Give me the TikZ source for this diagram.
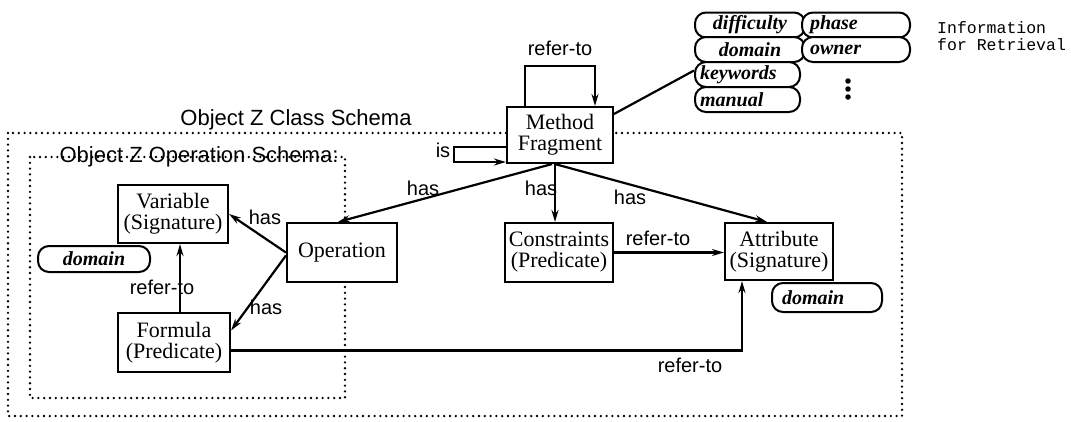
\documentclass[tikz,border=0pt]{standalone}
\usepackage{fontspec}
\setmainfont{Liberation Serif}
\newfontfamily\hv{Liberation Sans}
\newfontfamily\mono{Liberation Mono}
\usetikzlibrary{arrows.meta}
\begin{document}
\begin{tikzpicture}[x=1pt,y=-1pt,
  box/.style={draw, fill=white, line width=2.1pt, inner sep=0pt, align=center,
    font=\fontsize{22}{21}\selectfont},
  pill/.style={draw, fill=white, line width=2pt, rounded corners=11pt, inner sep=0pt,
    font=\fontsize{20}{20}\selectfont\bfseries\itshape},
  pillL/.style={pill, align=left, inner xsep=#1},
  lbl/.style={font=\hv\fontsize{20}{20}\selectfont, inner sep=0pt},
  conn/.style={line width=2.2pt},
  arr/.style={conn, -{Stealth[length=12pt,width=7pt]}},
  zone/.style={line width=2.6pt, dash pattern=on 0pt off 5.8pt, line cap=round},
  dotmark/.style={fill=black, circle, inner sep=0pt, minimum size=5.5pt}
]
\useasboundingbox (0,0) rectangle (1071,421);

% schema zones
\draw[zone] (8,133) rectangle (902,416);
\draw[zone] (30,157) rectangle (345,398);
\node[font=\hv\fontsize{22}{22}\selectfont, inner sep=0pt] (cls) at (296,120) {Object Z Class Schema};
\node[font=\hv\fontsize{22}{22}\selectfont, inner sep=0pt] (ops) at (199,157) {Object Z Operation Schema:};

% boxes
\node[box, minimum width=106pt, minimum height=56pt] (mf) at (560,135) {Method\\Fragment};
\node[box, minimum width=110pt, minimum height=58pt] (var) at (173,214) {Variable\\(Signature)};
\node[box, minimum width=112pt, minimum height=59pt] (form) at (174,342.5) {Formula\\(Predicate)};
\node[box, minimum width=110pt, minimum height=59pt] (op) at (342,252.5) {Operation};
\node[box, minimum width=108pt, minimum height=59pt] (con) at (559,252.5) {Constraints\\(Predicate)};
\node[box, minimum width=108pt, minimum height=57pt] (att) at (779,251.5) {Attribute\\(Signature)};

% domain pills
\node[pill, minimum width=112pt, minimum height=26pt] (dom1) at (94,259) {domain};
\node[pillL=10pt, text width=90pt, minimum height=29pt] (dom2) at (827,297.5) {domain};

% retrieval pills
\node[pill, minimum width=110pt, minimum height=25pt] (dif) at (750,25) {difficulty};
\node[pillL=8pt, text width=92pt, minimum height=25pt] (pha) at (856,25) {phase};
\node[pill, minimum width=110pt, minimum height=25pt] (dom3) at (750,49.5) {domain};
\node[pillL=8pt, text width=92pt, minimum height=25pt] (own) at (856,49.5) {owner};
\node[pillL=5pt, text width=95pt, minimum height=25pt] (kw) at (747.5,74.5) {keywords};
\node[pillL=5pt, text width=95pt, minimum height=25pt] (man) at (747.5,99.5) {manual};
\node[dotmark] (d1) at (848,81) {};
\node[dotmark] (d2) at (848,89) {};
\node[dotmark] (d3) at (848,97) {};
\node[font=\mono\fontsize{16.5}{17}\selectfont, align=left, anchor=north west, inner sep=0pt] (info) at (937,21) {Information\\for Retrieval};

% connectors
\draw[arr] ([xshift=-35pt]mf.north) -- ++(0,-40) -| ([xshift=35pt]mf.north);
\node[lbl] (l1) at (560,48) {refer-to};
\draw[arr] ([yshift=-12pt]mf.west) -- ++(-52,0) |- ([yshift=-27pt]mf.west);
\node[lbl] (l2) at (443,150) {is};
\draw[conn] ([yshift=-8pt]mf.north east) -- ([yshift=4pt]kw.west);

\draw[arr] ([xshift=-8pt]mf.south) -- ([xshift=-4pt]op.north);
\node[lbl] (l3) at (423,188) {has};
\draw[arr] ([xshift=-5pt]mf.south) -- ([xshift=-5pt]mf.south |- con.north);
\node[lbl] (l4) at (541,188) {has};
\draw[arr] ([xshift=-5pt]mf.south) -- ([xshift=-12pt]att.north);
\node[lbl] (l5) at (630,197) {has};
\draw[arr] (con.east) -- (con.east -| att.west);
\node[lbl] (l6) at (658,238) {refer-to};
\draw[arr] ([yshift=-8pt]form.east) -| ([xshift=-37pt]att.south);
\node[lbl] (l7) at (690,365) {refer-to};
\draw[arr] (op.west) -- (var.east);
\node[lbl] (l8) at (265,217) {has};
\draw[arr] ([yshift=-3pt]op.west) -- ([yshift=12pt]form.east);
\node[lbl] (l9) at (266,307) {has};
\draw[arr] ([xshift=6pt]form.north) -- ([xshift=6pt]form.north |- var.south);
\node[lbl] (l10) at (162,287) {refer-to};
\end{tikzpicture}
\end{document}
